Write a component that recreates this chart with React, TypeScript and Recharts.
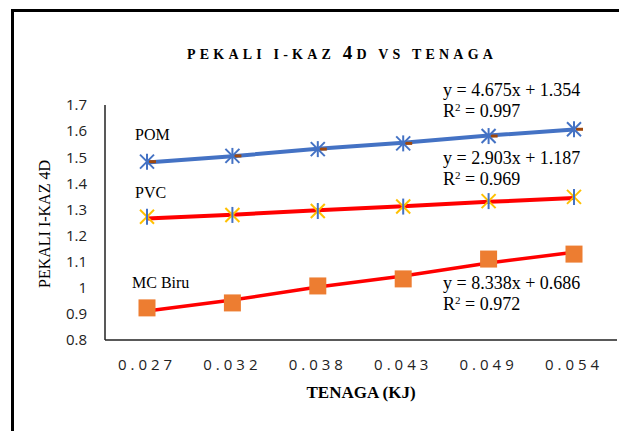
import React from 'react';
import { LineChart, Line, XAxis, YAxis } from 'recharts';

const energy = ['0.027', '0.032', '0.038', '0.043', '0.049', '0.054'];
const pom = [1.483, 1.505, 1.531, 1.553, 1.581, 1.607];
const pvc = [1.272, 1.279, 1.294, 1.311, 1.332, 1.348];
const mcBiru = [0.923, 0.942, 1.007, 1.034, 1.11, 1.129];
const pomTrend = [1.48, 1.504, 1.532, 1.555, 1.583, 1.606];
const pvcTrend = [1.265, 1.28, 1.297, 1.312, 1.329, 1.344];
const mcTrend = [0.911, 0.953, 1.003, 1.045, 1.095, 1.136];
const yTicks = [0.8, 0.9, 1.0, 1.1, 1.2, 1.3, 1.4, 1.5, 1.6, 1.7];

const data = energy.map((e, i) => ({
  energy: e,
  pom: pom[i],
  pvc: pvc[i],
  mc: mcBiru[i],
  pomTrend: pomTrend[i],
  pvcTrend: pvcTrend[i],
  mcTrend: mcTrend[i],
}));

const BLUE = '#4472C4';
const ORANGE = '#ED7D31';
const YELLOW = '#FFC000';
const RED = '#FF0000';
const serif = '"Liberation Serif", "Times New Roman", serif';
const sans = '"Open Sans", "Liberation Sans", sans-serif';

const PomDot = (p: any) => {
  const { cx, cy, index } = p;
  if (cx == null || cy == null) return <g key={`pom-${index}`} />;
  return (
    <g key={`pom-${index}`}>
      <line x1={cx + 2} y1={cy} x2={cx + 9} y2={cy} stroke="#9E480E" strokeWidth={3} />
      <line x1={cx - 7} y1={cy - 7} x2={cx + 7} y2={cy + 7} stroke={BLUE} strokeWidth={2} />
      <line x1={cx - 7} y1={cy + 7} x2={cx + 7} y2={cy - 7} stroke={BLUE} strokeWidth={2} />
      <line x1={cx} y1={cy - 8} x2={cx} y2={cy + 8} stroke={BLUE} strokeWidth={2} />
    </g>
  );
};

const PvcDot = (p: any) => {
  const { cx, cy, index } = p;
  if (cx == null || cy == null) return <g key={`pvc-${index}`} />;
  return (
    <g key={`pvc-${index}`}>
      <line x1={cx - 7} y1={cy - 7} x2={cx + 7} y2={cy + 7} stroke={YELLOW} strokeWidth={2} />
      <line x1={cx - 7} y1={cy + 7} x2={cx + 7} y2={cy - 7} stroke={YELLOW} strokeWidth={2} />
      <line x1={cx} y1={cy - 8} x2={cx} y2={cy + 8} stroke={BLUE} strokeWidth={2} />
    </g>
  );
};

const McDot = (p: any) => {
  const { cx, cy, index } = p;
  if (cx == null || cy == null) return <g key={`mc-${index}`} />;
  return <rect key={`mc-${index}`} x={cx - 8.5} y={cy - 8.5} width={17} height={17} fill={ORANGE} />;
};

const txt = (left: number, top: number, size = 18): React.CSSProperties => ({
  position: 'absolute',
  left,
  top,
  fontFamily: serif,
  fontSize: size,
  lineHeight: '22px',
  whiteSpace: 'nowrap',
  color: '#000',
});

const Sup = () => <span style={{ fontSize: 11, position: 'relative', top: -6 }}>2</span>;

export default function App() {
  return (
    <div style={{ position: 'fixed', left: 0, top: 0, width: 619, height: 431, background: '#fff', overflow: 'hidden' }}>
      <div style={{ position: 'absolute', left: 11, top: 9, width: 700, height: 500, borderLeft: '3px solid #000', borderTop: '3px solid #000' }} />
      <LineChart width={619} height={431} data={data} margin={{ top: 105, right: 2, bottom: 61, left: 0 }}>
        <XAxis
          dataKey="energy"
          height={30}
          padding={{ left: 42, right: 43 }}
          tickLine={false}
          tickMargin={13}
          axisLine={{ stroke: '#222', strokeWidth: 1.5 }}
          tick={{ fontSize: 15, fill: '#222', fontFamily: sans, letterSpacing: 4 }}
          interval={0}
        />
        <YAxis
          width={105}
          domain={[0.8, 1.7]}
          ticks={yTicks}
          tickFormatter={(v: number) => (v === 1 ? '1' : v.toFixed(1))}
          tickLine={false}
          tickMargin={12}
          axisLine={{ stroke: '#222', strokeWidth: 1.5 }}
          tick={{ fontSize: 15, fill: '#222', fontFamily: sans }}
          allowDataOverflow
        />
        <Line dataKey="pom" stroke="none" dot={PomDot} activeDot={false} isAnimationActive={false} />
        <Line dataKey="pvc" stroke="none" dot={PvcDot} activeDot={false} isAnimationActive={false} />
        <Line dataKey="mc" stroke="none" dot={McDot} activeDot={false} isAnimationActive={false} />
        <Line dataKey="pomTrend" type="linear" stroke={BLUE} strokeWidth={4} dot={false} activeDot={false} isAnimationActive={false} />
        <Line dataKey="pvcTrend" type="linear" stroke={RED} strokeWidth={4} dot={false} activeDot={false} isAnimationActive={false} />
        <Line dataKey="mcTrend" type="linear" stroke={RED} strokeWidth={3.5} dot={false} activeDot={false} isAnimationActive={false} />
      </LineChart>

      <div style={{ position: 'absolute', left: 187, top: 42, fontFamily: serif, fontWeight: 700, fontSize: 14, letterSpacing: 4.2, whiteSpace: 'nowrap', lineHeight: '22px' }}>
        PEKALI I-KAZ <span style={{ fontSize: 19 }}>4</span>D VS TENAGA
      </div>

      <div style={{ position: 'absolute', left: 45, top: 224, transform: 'translate(-50%, -50%) rotate(-90deg)', fontFamily: serif, fontSize: 16, whiteSpace: 'nowrap' }}>
        PEKALI I-KAZ 4D
      </div>

      <div style={{ position: 'absolute', left: 361, top: 393, transform: 'translate(-50%, -50%)', fontFamily: serif, fontWeight: 700, fontSize: 17, whiteSpace: 'nowrap' }}>
        TENAGA (KJ)
      </div>

      <div style={txt(135, 124, 16)}>POM</div>
      <div style={txt(135, 182, 16)}>PVC</div>
      <div style={txt(132, 272, 16)}>MC Biru</div>

      <div style={txt(443, 79)}>y = 4.675x + 1.354</div>
      <div style={txt(443, 100)}>R<Sup /> = 0.997</div>
      <div style={txt(443, 147)}>y = 2.903x + 1.187</div>
      <div style={txt(443, 168)}>R<Sup /> = 0.969</div>
      <div style={txt(443, 272)}>y = 8.338x + 0.686</div>
      <div style={txt(443, 293)}>R<Sup /> = 0.972</div>
    </div>
  );
}
